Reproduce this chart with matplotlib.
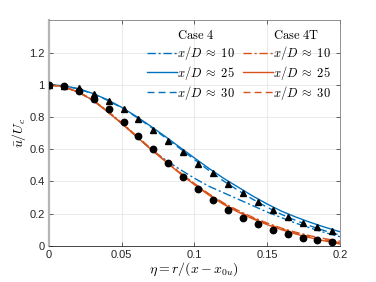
import matplotlib
matplotlib.use("Agg")
import matplotlib.pyplot as plt
from matplotlib.lines import Line2D

plt.rcParams['mathtext.fontset'] = 'cm'
plt.rcParams['font.family'] = 'Liberation Sans'

# line data, eta step 0.01
eta = [0.00, 0.01, 0.02, 0.03, 0.04, 0.05, 0.06, 0.07, 0.08, 0.09, 0.10,
       0.11, 0.12, 0.13, 0.14, 0.15, 0.16, 0.17, 0.18, 0.19, 0.20]

c4_xd10 = [1.0, 0.988, 0.955, 0.905, 0.835, 0.76, 0.68, 0.60, 0.535, 0.475, 0.42,
           0.37, 0.33, 0.29, 0.25, 0.21, 0.175, 0.14, 0.11, 0.082, 0.057]
c4_xd25 = [1.0, 0.994, 0.976, 0.947, 0.908, 0.86, 0.804, 0.743, 0.679, 0.612, 0.546,
           0.481, 0.42, 0.365, 0.31, 0.26, 0.215, 0.178, 0.145, 0.115, 0.088]
c4_xd30 = [1.0, 0.994, 0.975, 0.945, 0.905, 0.857, 0.80, 0.738, 0.672, 0.605, 0.536,
           0.468, 0.403, 0.345, 0.29, 0.24, 0.195, 0.157, 0.123, 0.093, 0.067]

c4t_xd10 = [1.0, 0.988, 0.957, 0.908, 0.84, 0.765, 0.685, 0.605, 0.53, 0.457, 0.387,
            0.323, 0.267, 0.22, 0.178, 0.142, 0.11, 0.084, 0.062, 0.044, 0.03]
c4t_xd25 = [1.0, 0.988, 0.955, 0.905, 0.835, 0.76, 0.68, 0.60, 0.525, 0.45, 0.38,
            0.315, 0.258, 0.21, 0.168, 0.132, 0.10, 0.073, 0.05, 0.03, 0.012]
c4t_xd30 = [1.0, 0.988, 0.956, 0.906, 0.837, 0.762, 0.682, 0.602, 0.527, 0.453, 0.383,
            0.319, 0.262, 0.215, 0.173, 0.137, 0.105, 0.078, 0.056, 0.037, 0.02]

# reference points
eta_pts = [0.0, 0.0103, 0.0205, 0.0308, 0.041, 0.0513, 0.0615, 0.0718, 0.082, 0.0923,
           0.1026, 0.1128, 0.1231, 0.1333, 0.1436, 0.1538, 0.1641, 0.1744, 0.1846, 0.1949]
tri_vals = [1.0, 0.995, 0.977, 0.94, 0.90, 0.85, 0.79, 0.72, 0.65, 0.58,
            0.51, 0.45, 0.385, 0.33, 0.27, 0.22, 0.18, 0.145, 0.115, 0.09]
circ_vals = [1.0, 0.99, 0.96, 0.91, 0.85, 0.77, 0.685, 0.60, 0.515, 0.43,
             0.355, 0.285, 0.225, 0.175, 0.135, 0.10, 0.075, 0.052, 0.038, 0.027]

blue = '#0072BD'
orange = '#D95319'
dashdot = (0, (6, 2, 1.5, 2))
dashed = (0, (5, 3))

fig = plt.figure(figsize=(3.76, 2.82), dpi=100)
ax = fig.add_axes([0.130, 0.128, 0.774, 0.80])

ax.plot(eta, c4_xd10, color=blue, lw=1.0, ls=dashdot)
ax.plot(eta, c4_xd25, color=blue, lw=1.0, ls='-')
ax.plot(eta, c4_xd30, color=blue, lw=1.0, ls=dashed)
ax.plot(eta, c4t_xd10, color=orange, lw=1.0, ls=dashdot)
ax.plot(eta, c4t_xd25, color=orange, lw=1.0, ls='-')
ax.plot(eta, c4t_xd30, color=orange, lw=1.0, ls=dashed)

ax.plot(eta_pts, tri_vals, '^', color='black', ms=4.6, zorder=5)
ax.plot(eta_pts, circ_vals, 'o', color='black', ms=4.6, zorder=5)

ax.set_xlim(0, 0.2)
ax.set_ylim(0, 1.4)
ax.set_xticks([0, 0.05, 0.1, 0.15, 0.2])
ax.set_xticklabels(['0', '0.05', '0.1', '0.15', '0.2'])
ax.set_yticks([0, 0.2, 0.4, 0.6, 0.8, 1.0, 1.2])
ax.set_yticklabels(['0', '0.2', '0.4', '0.6', '0.8', '1', '1.2'])
ax.tick_params(direction='in', length=3, width=0.5, labelsize=8,
               colors='#262626', top=True, right=True, pad=3)
ax.grid(True, color='#e6e6e6', lw=0.6)
ax.set_axisbelow(True)
for s in ['top', 'right']:
    ax.spines[s].set_color('#7f7f7f')
    ax.spines[s].set_linewidth(0.6)
ax.spines['bottom'].set_color('#262626')
ax.spines['bottom'].set_linewidth(0.6)
ax.spines['left'].set_color('#b5b5b5')
ax.spines['left'].set_linewidth(1.6)

ax.set_xlabel(r'$\eta = r/(x - x_{0u})$', fontsize=10, labelpad=0)
ax.set_ylabel(r'$\bar{u}/U_c$', fontsize=10, labelpad=1)

# two-column legend with column headers
blank = Line2D([], [], color='none')
handles = [blank,
           Line2D([], [], color=blue, lw=1.0, ls=dashdot),
           Line2D([], [], color=blue, lw=1.0, ls='-'),
           Line2D([], [], color=blue, lw=1.0, ls=dashed),
           blank,
           Line2D([], [], color=orange, lw=1.0, ls=dashdot),
           Line2D([], [], color=orange, lw=1.0, ls='-'),
           Line2D([], [], color=orange, lw=1.0, ls=dashed)]
labels = [r'$\mathrm{Case\ 4}$', r'$x/D \;\approx\; 10$', r'$x/D \;\approx\; 25$', r'$x/D \;\approx\; 30$',
          r'$\mathrm{Case\ 4T}$', r'$x/D \;\approx\; 10$', r'$x/D \;\approx\; 25$', r'$x/D \;\approx\; 30$']
ax.legend(handles, labels, ncol=2, loc='upper right', frameon=False, fontsize=9,
          handlelength=2.4, handletextpad=0.05, columnspacing=0.6, labelspacing=0.15,
          borderaxespad=0.4, borderpad=0.3)

fig.savefig('out.png', dpi=100)
